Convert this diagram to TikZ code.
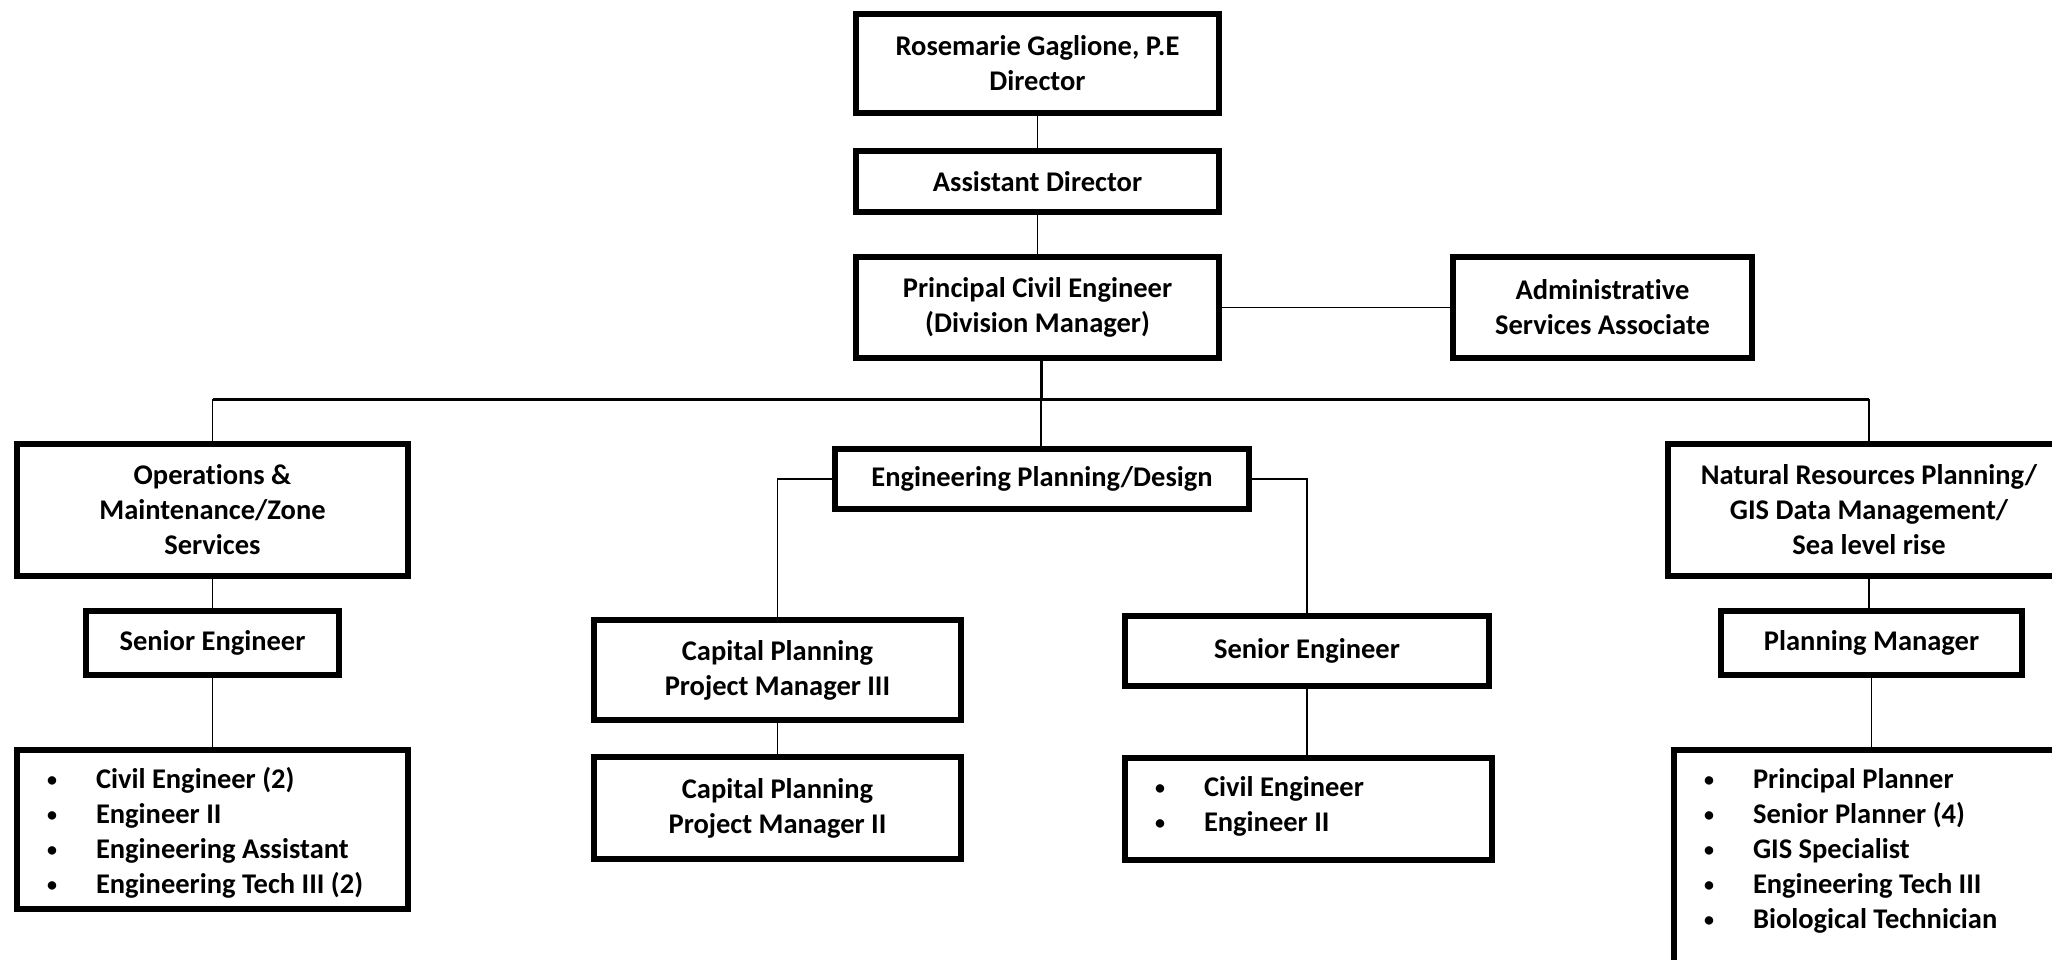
\documentclass[tikz,border=0pt]{standalone}
\usepackage{fontspec}
\setmainfont{Carlito}[Ligatures=CommonOff]
\usepackage{tikz}

\newcommand{\duty}[1]{\raisebox{1.5pt}{\scalebox{0.7}{\textbullet}} & #1\\}

\begin{document}
\begin{tikzpicture}[x=1pt,y=-1pt,
  post/.style={draw,line width=6pt,align=center,inner sep=0pt,
    font=\bfseries\fontsize{28.5}{35}\selectfont},
  roster/.style={draw,line width=6pt,anchor=north,inner xsep=0pt,inner ysep=13.5pt,
    font=\bfseries\fontsize{28.5}{35}\selectfont},
  link/.style={line width=1.5pt},
  trunk/.style={line width=3pt}]
  \useasboundingbox (0,0) rectangle (2052,959);

  % Top
  \node[post,minimum width=363pt,minimum height=99pt] (dir) at (1037.5,63.5) {Rosemarie Gaglione, P.E\\Director};
  \node[post,minimum width=363pt,minimum height=61pt] (asst) at (1037.5,181.5) {Assistant Director};
  \node[post,minimum width=363pt,minimum height=101pt] (pce) at (1037.5,307.5) {Principal Civil Engineer\\(Division Manager)};
  \node[post,minimum width=299pt,minimum height=101pt] (admin) at (1602.5,307.5) {Administrative\\Services Associate};

  \draw[link] (dir) -- (asst);
  \draw[link] (asst) -- (pce);
  \draw[link] (pce.east) -- (admin.west);

  % Middle
  \node[post,minimum width=391pt,minimum height=132pt] (ops) at (212.5,510) {Operations \&\\Maintenance/Zone\\Services};
  \node[post,minimum width=414pt,minimum height=60pt] (epd) at (1042,479) {Engineering Planning/Design};
  \node[post,minimum width=402pt,minimum height=132pt] (nat) at (1869,510) {Natural Resources Planning/\\GIS Data Management/\\Sea level rise};

  \coordinate (bus) at (1041,399);
  \coordinate (busL) at (ops.north |- bus);
  \coordinate (busR) at (nat.north |- bus);
  \draw[trunk] (bus |- pce.south) -- (bus);
  \draw[trunk] (busL) -- (busR);
  \draw[link] (busL) -- (ops.north);
  \draw[link] (bus) -- (bus |- epd.north);
  \draw[link] (busR) -- (nat.north);

  \node[post,minimum width=253pt,minimum height=64pt] (seL) at (212.5,643) {Senior Engineer};
  \node[post,minimum width=367pt,minimum height=100pt] (pm3) at (777.5,670) {Capital Planning\\Project Manager III};
  \node[post,minimum width=364pt,minimum height=70pt] (seM) at (1307,651) {Senior Engineer};
  \node[post,minimum width=301pt,minimum height=64pt] (pmgr) at (1871.5,643) {Planning Manager};

  \draw[link] (ops) -- (seL);
  \draw[link] (epd.west) -| (pm3.north);
  \draw[link] (epd.east) -| (seM.north);
  \draw[link] (nat.south) -- (nat.south |- pmgr.north);

  % Bottom
  \node[roster,text depth=107.5pt] (listL) at (212.5,747) {\begin{tabular}[t]{@{\hspace{30pt}}p{49pt}@{}p{312pt}@{}}
    \duty{Civil Engineer (2)}
    \duty{Engineer II}
    \duty{Engineering Assistant}
    \duty{Engineering Tech III (2)}
  \end{tabular}};
  \node[post,minimum width=367pt,minimum height=102pt] (pm2) at (777.5,808) {Capital Planning\\Project Manager II};
  \node[roster,text depth=50.5pt] (listM) at (1308.5,755) {\begin{tabular}[t]{@{\hspace{30pt}}p{49pt}@{}p{288pt}@{}}
    \duty{Civil Engineer}
    \duty{Engineer II}
  \end{tabular}};
  \node[roster,text depth=186.5pt] (listR) at (1873,747) {\begin{tabular}[t]{@{\hspace{30pt}}p{49pt}@{}p{319pt}@{}}
    \duty{Principal Planner}
    \duty{Senior Planner (4)}
    \duty{GIS Specialist}
    \duty{Engineering Tech III}
    \duty{Biological Technician}
  \end{tabular}};

  \draw[link] (seL.south) -- (seL.south |- listL.north);
  \draw[link] (pm3) -- (pm2);
  \draw[link] (seM.south) -- (seM.south |- listM.north);
  \draw[link] (pmgr.south) -- (pmgr.south |- listR.north);
\end{tikzpicture}
\end{document}
